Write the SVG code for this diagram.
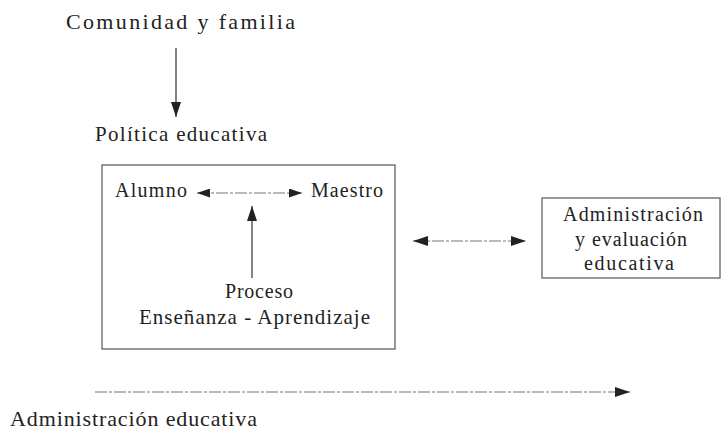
<svg xmlns="http://www.w3.org/2000/svg" width="721" height="435" viewBox="0 0 721 435">
<style>
text{fill:#222;font-family:"Liberation Serif","DejaVu Serif",serif}
.c{text-anchor:middle}
.box{fill:none;stroke:#555;stroke-width:1.2}
.ln{fill:none;stroke:#333;stroke-width:1.2}
.dash{fill:none;stroke:#777;stroke-width:1.1;stroke-dasharray:12 2 3 2}
</style>
<defs>
<marker id="ah" viewBox="0 0 15 10" refX="15" refY="5" markerWidth="15" markerHeight="10" markerUnits="userSpaceOnUse" orient="auto-start-reverse">
<path d="M0,0 L15,5 L0,10 Z" fill="#222"/>
</marker>
<marker id="ahs" viewBox="0 0 13 9" refX="13" refY="4.5" markerWidth="13" markerHeight="9" markerUnits="userSpaceOnUse" orient="auto-start-reverse">
<path d="M0,0 L13,4.5 L0,9 Z" fill="#222"/>
</marker>
</defs>
<g id="comunidad"><text font-size="22" x="66" y="29" textLength="229" lengthAdjust="spacing">Comunidad y familia</text></g>
<g id="politica"><text font-size="21" x="95" y="141" textLength="172" lengthAdjust="spacing">Política educativa</text></g>
<g id="proceso-box">
<rect class="box" x="102" y="165" width="293" height="184"/>
</g>
<g id="alumno"><text font-size="20" x="115" y="197" textLength="72" lengthAdjust="spacing">Alumno</text></g>
<g id="maestro"><text font-size="20" x="311" y="197" textLength="72" lengthAdjust="spacing">Maestro</text></g>
<g id="proceso"><text class="c" font-size="20" x="259" y="298" textLength="68" lengthAdjust="spacing">Proceso</text><text class="c" font-size="21" x="254.5" y="324" textLength="231" lengthAdjust="spacing">Enseñanza - Aprendizaje</text></g>
<g id="admin-eval">
<rect class="box" x="542" y="198" width="178" height="80"/>
<text class="c" font-size="20" x="633" y="221" textLength="140" lengthAdjust="spacing">Administración</text>
<text class="c" font-size="20" x="631" y="246" textLength="112" lengthAdjust="spacing">y evaluación</text>
<text class="c" font-size="20" x="629" y="270" textLength="90" lengthAdjust="spacing">educativa</text>
</g>
<g id="admin"><text font-size="22" x="10" y="426" textLength="247" lengthAdjust="spacing">Administración educativa</text></g>
<g id="connectors">
<path class="ln" d="M176,48 V117" marker-end="url(#ah)"/>
<path class="dash" d="M197,193 H302" marker-start="url(#ahs)" marker-end="url(#ahs)"/>
<path class="ln" d="M252,278 V206" marker-end="url(#ah)"/>
<path class="dash" d="M413,241 H526" marker-start="url(#ah)" marker-end="url(#ah)"/>
<path class="dash" d="M95,392 H630" marker-end="url(#ah)"/>
</g>
</svg>
